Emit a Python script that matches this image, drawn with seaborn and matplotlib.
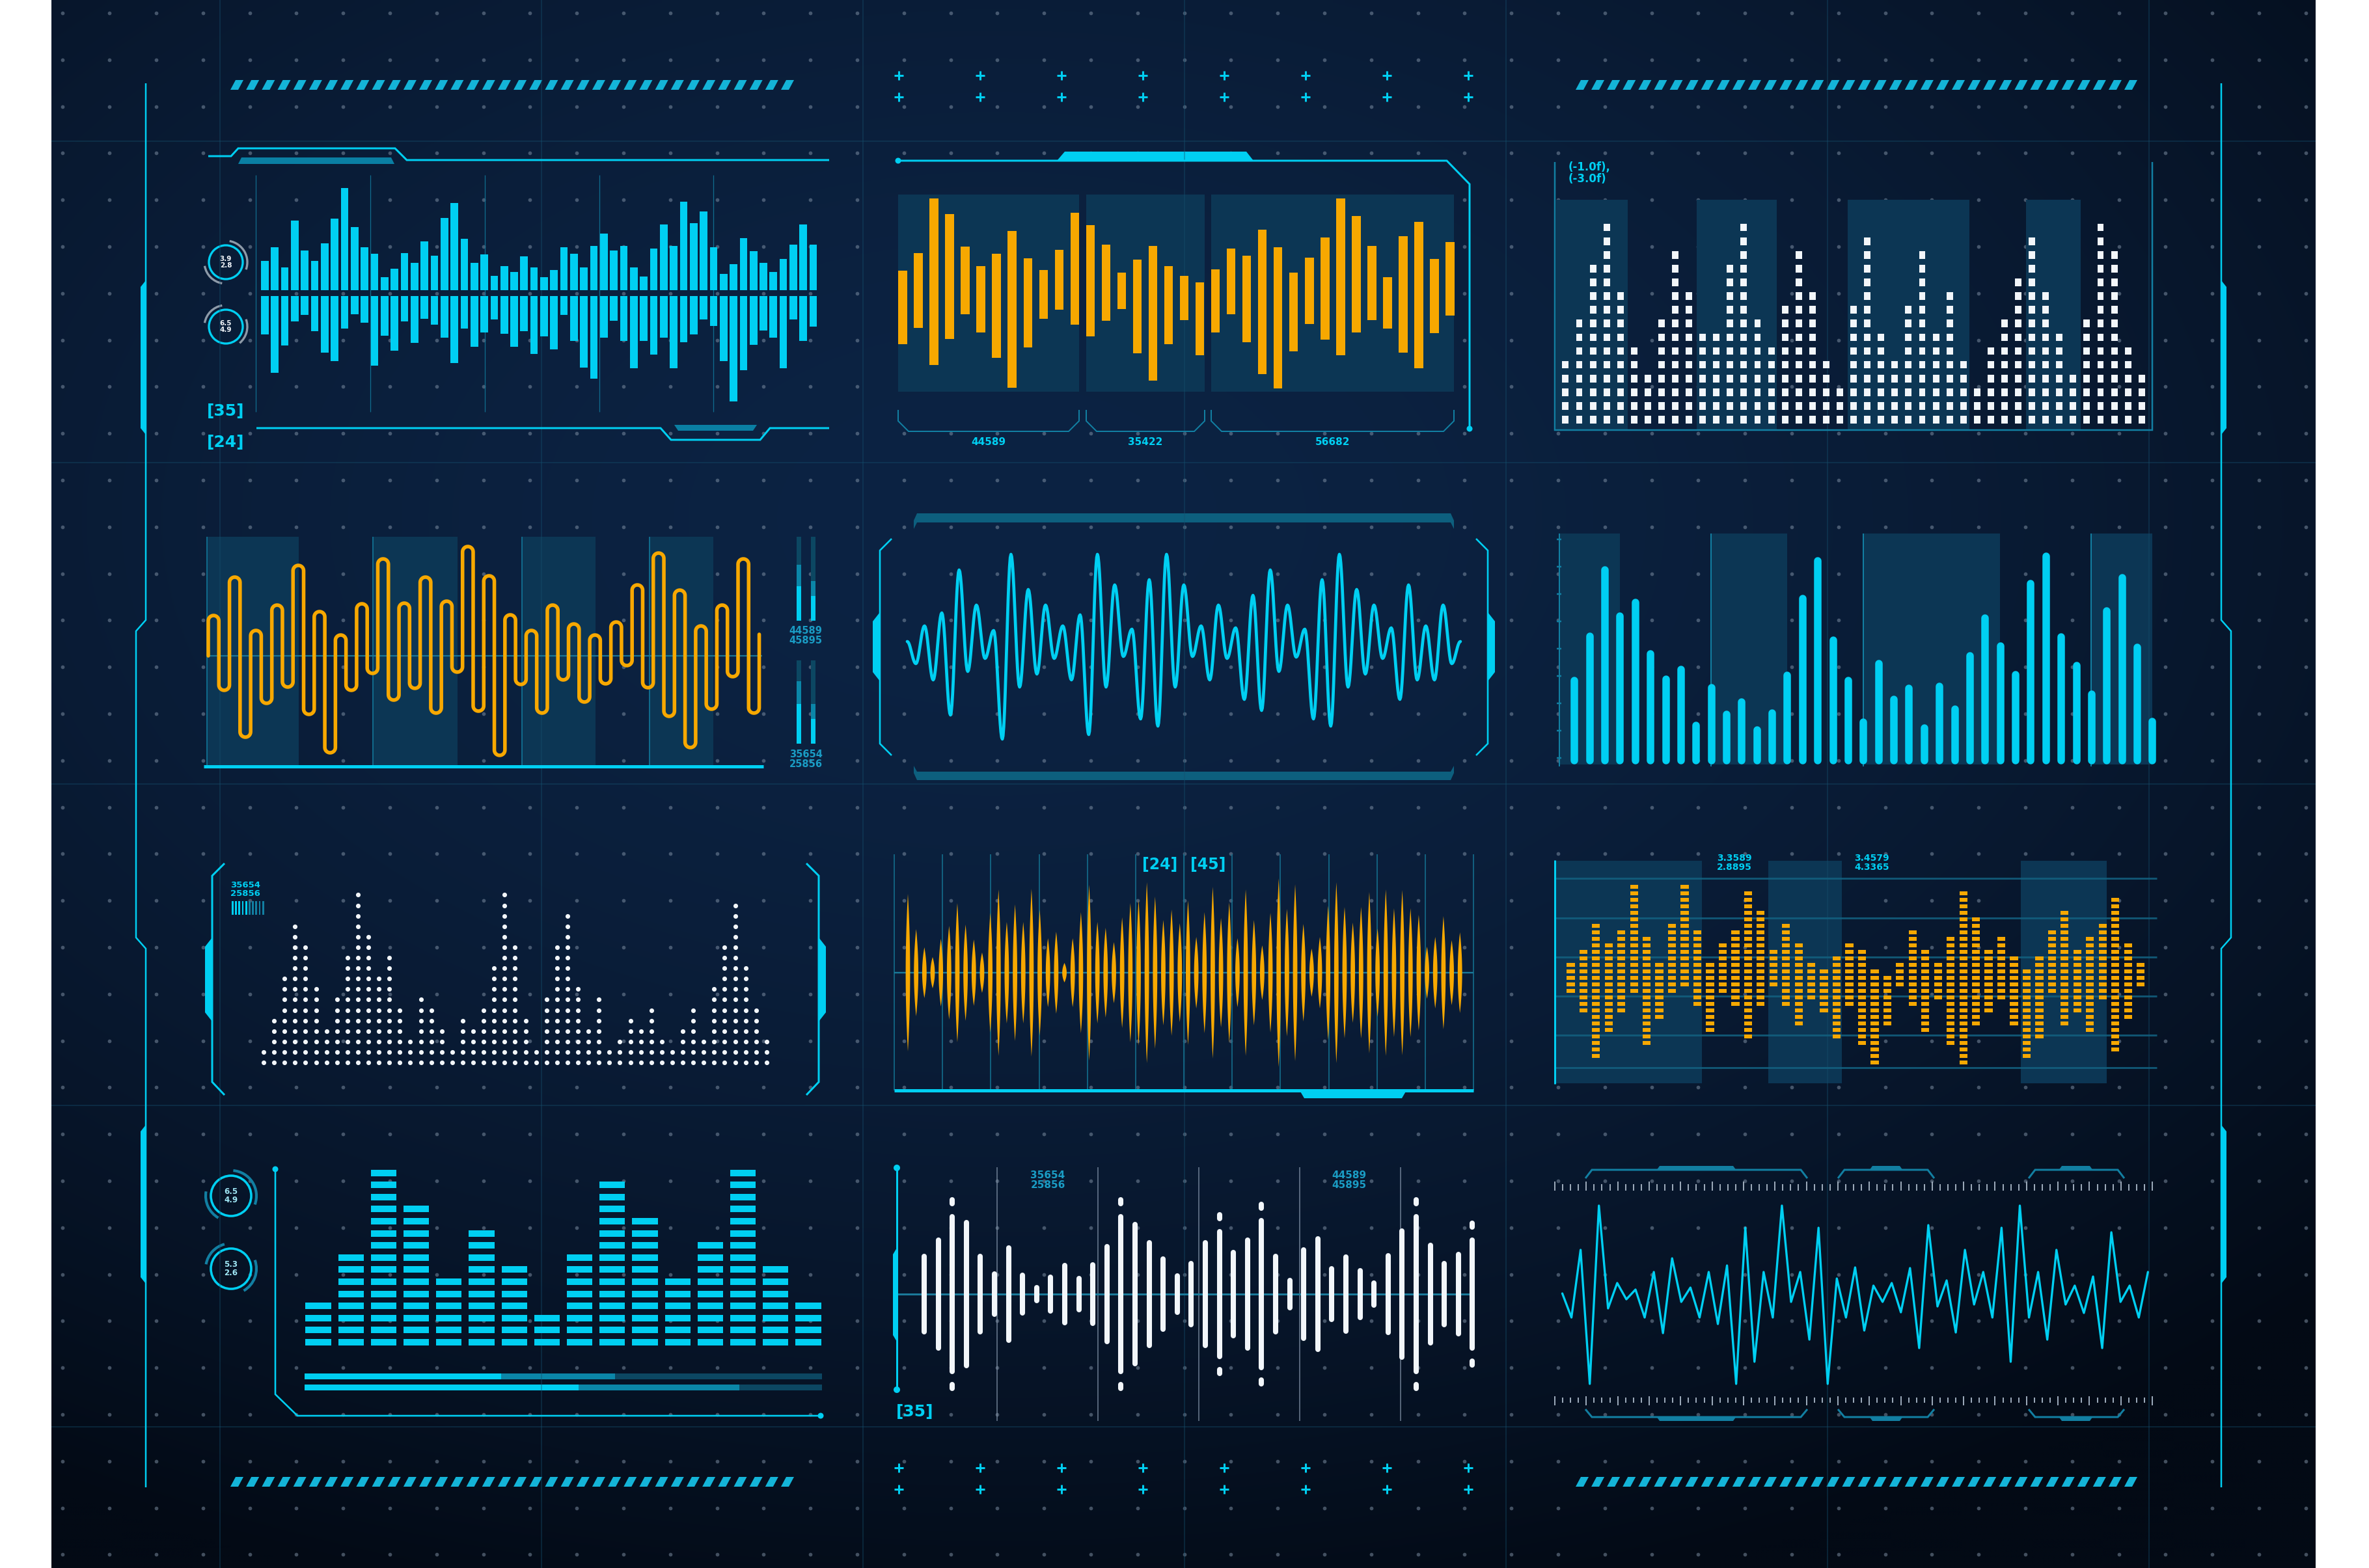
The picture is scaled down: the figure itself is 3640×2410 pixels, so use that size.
import numpy as np
import pandas as pd
import matplotlib.pyplot as plt
import seaborn as sns
from matplotlib.patches import Arc, Circle, Polygon, Rectangle

# ---------------------------------------------------------------- data
# panel 1: mirrored cyan bars (upper / lower lengths)
UP1 = [88, 130, 68, 211, 120, 88, 142, 216, 309, 190, 130, 111, 40, 65, 113, 82, 148, 105, 218, 263,
       155, 82, 109, 44, 73, 55, 102, 68, 40, 61, 130, 111, 68, 134, 171, 119, 134, 68, 42, 126,
       198, 134, 267, 203, 237, 130, 50, 78, 157, 117, 83, 55, 94, 138, 198, 137]
DN1 = [116, 231, 150, 76, 58, 106, 171, 197, 99, 56, 80, 210, 120, 165, 76, 141, 68, 87, 125, 203,
       99, 154, 110, 70, 114, 154, 107, 174, 121, 161, 58, 135, 216, 250, 125, 74, 136, 218, 135, 177,
       125, 218, 140, 115, 71, 91, 197, 318, 224, 148, 104, 125, 218, 71, 135, 92]
P1_CIRCLES = ["3.9\n2.8", "6.5\n4.9"]
P1_TAGS = ["[35]", "[24]"]

# panel 2: orange floating bars (high / low ends)
HI2 = [89, 159, 380, 316, 186, 107, 157, 248, 139, 92, 173, 322, 273, 194, 82, 133, 189, 107, 69, 44,
       94, 179, 149, 255, 184, 82, 142, 222, 380, 310, 189, 64, 228, 286, 137, 204]
LO2 = [-206, -139, -288, -184, -84, -158, -259, -381, -219, -104, -68, -127, -175, -111, -64, -242,
       -351, -206, -109, -250, -159, -84, -197, -324, -382, -233, -124, -187, -250, -159, -109, -143,
       -240, -303, -161, -91]
P2_LABELS = ["44589", "35422", "56682"]

# panel 3: white cell columns (cells per column)
H3 = [5, 8, 12, 15, 10, 6, 4, 8, 13, 10, 7, 7, 12, 15, 8, 6, 9, 13, 10, 5, 3, 9, 14, 7, 5, 9, 13, 7,
      10, 5, 3, 6, 8, 11, 14, 10, 7, 4, 8, 15, 13, 6, 4]
P3_LABEL = "(-1.0f),\n(-3.0f)"

# panel 4: orange hairpin wave (peak heights / trough depths)
PEAK4 = [62, 121, 39, 78, 139, 68, 32, 80, 149, 81, 121, 84, 168, 123, 63, 39, 78, 49, 32, 52, 109,
         158, 101, 46, 78, 149]
TROUGH4 = [-53, -125, -73, -48, -90, -149, -53, -27, -68, -50, -88, -25, -85, -153, -44, -88, -37,
           -71, -43, -15, -49, -93, -141, -82, -32, -88]
START4, END4 = 0, 33
P4_LABELS = ["44589\n45895", "35654\n25856"]

# panel 5: cyan smooth wave (successive extrema)
EXT5 = [12, -22, 36, -47, 56, -101, 122, -34, 68, -14, 29, -138, 146, -58, 92, -38, 68, -14, 36, -47,
        53, -131, 146, -58, 99, -11, 31, -107, 107, -118, 146, -58, 99, -11, 36, -47, 68, -14, 33, -77,
        83, -94, 122, -34, 68, -12, 31, -107, 107, -118, 146, -58, 92, -38, 68, -14, 33, -77, 99, -47,
        36, -47, 68, -22, 12]

# panel 6: cyan rounded bars
H6 = [135, 203, 305, 234, 255, 176, 137, 152, 66, 124, 83, 102, 59, 85, 143, 261, 319, 197, 135, 71,
      161, 106, 123, 62, 126, 91, 173, 231, 188, 144, 284, 326, 202, 158, 114, 242, 293, 186, 72]

# panel 7: white dot columns (dots per column)
H7 = [2, 5, 9, 14, 12, 8, 4, 7, 11, 17, 13, 9, 11, 6, 3, 7, 6, 4, 2, 5, 4, 6, 10, 17, 12, 5, 2, 7, 12,
      15, 8, 4, 7, 2, 3, 5, 4, 6, 3, 2, 4, 6, 3, 8, 12, 16, 10, 6, 3]
P7_LABEL = "35654\n25856"

# panel 8: orange spindles (half amplitude)
A8 = [121, 67, 39, 24, 52, 72, 107, 74, 51, 31, 92, 128, 78, 105, 78, 129, 97, 53, 63, 15, 53, 93, 135,
      78, 69, 47, 85, 107, 112, 139, 117, 81, 97, 76, 111, 55, 93, 132, 84, 108, 53, 128, 81, 42, 92,
      145, 98, 136, 75, 37, 55, 103, 139, 101, 77, 101, 124, 68, 128, 99, 127, 99, 89, 40, 55, 87, 50, 62]
P8_TAGS = ["[24]", "[45]"]

# panel 9: orange mirrored cells (cells above / below centre)
UP9 = [2, 4, 8, 5, 7, 14, 6, 2, 8, 14, 7, 2, 5, 7, 13, 10, 4, 8, 5, 2, 1, 3, 5, 4, 1, 0, 2, 7, 4, 2, 6,
       13, 9, 4, 6, 3, 1, 3, 7, 10, 4, 6, 8, 12, 5, 2]
DN9 = [3, 6, 13, 9, 6, 3, 11, 7, 3, 2, 5, 9, 3, 5, 10, 5, 2, 5, 8, 4, 6, 10, 5, 11, 14, 8, 2, 5, 9, 4,
       11, 14, 8, 6, 4, 8, 13, 10, 3, 8, 6, 9, 4, 12, 7, 2]
P9_LABELS = ["3.3589\n2.8895", "3.4579\n4.3365"]

# panel 10: cyan block columns + progress bars
H10 = [4, 8, 15, 12, 6, 10, 7, 3, 8, 14, 11, 6, 9, 15, 7, 4]
P10_CIRCLES = ["6.5\n4.9", "5.3\n2.6"]
PROGRESS10 = [[0.38, 0.60], [0.53, 0.84]]   # bright / medium fraction

# panel 11: white rounded bars (half length) + detached pills
A11 = [62, 87, 123, 114, 62, 35, 75, 33, 14, 30, 48, 28, 49, 77, 123, 111, 83, 58, 32, 51, 83, 100, 68,
       87, 117, 62, 25, 72, 89, 43, 61, 40, 21, 63, 101, 123, 79, 51, 65, 87]
PILL_IDX11 = [2, 14, 21, 24, 35, 39]
PILL_AMP11 = [142, 142, 119, 135, 142, 106]
P11_LABELS = ["35654\n25856", "44589\n45895"]

# panel 12: cyan zigzag
Z12 = [2, -35, 69, -137, 137, -21, 18, -7, 8, -35, 35, -59, 56, -11, 11, -35, 35, -45, 45, -137, 103,
       -103, 35, -35, 137, -11, 35, -69, 103, -137, 25, -35, 42, -55, 14, -11, 18, -27, 41, -82, 107,
       -18, 22, -58, 69, -15, 35, -35, 103, -103, 137, -35, 35, -69, 69, -15, 14, -28, 28, -82, 96, -11,
       14, -35, 35]

# ---------------------------------------------------------------- style
W, H = 3640, 2410
CYAN = "#00cff2"
ORANGE = "#f7a800"
WHITE = "#f2f6fa"
TEAL = "#127fa2"
TEAL_MID = "#0b86a8"
TEAL_DARK = "#0c4762"
BAND = "#0c3654"
LINE_FAINT = "#16516f"
TEXT_TEAL = "#1a9cc4"

sns.set_style("dark")
plt.rcParams["font.family"] = ["DejaVu Sans"]

fig = plt.figure(figsize=(W / 100, H / 100), dpi=100, facecolor="white")
bg = fig.add_axes([0, 0, 1, 1])
bg.set_xlim(0, W)
bg.set_ylim(H, 0)
bg.axis("off")


def panel(box, x0, sx, y0, sy):
    """Axes over an image-pixel box; data x = (px - x0) / sx, data y = (y0 - py) / sy."""
    l, t, r, b = box
    ax = fig.add_axes([l / W, 1 - b / H, (r - l) / W, (b - t) / H])
    ax.set_xlim((l - x0) / sx, (r - x0) / sx)
    ax.set_ylim((y0 - b) / sy, (y0 - t) / sy)
    ax.axis("off")
    return ax


def line(pts, color=CYAN, lw=3, **kw):
    xs, ys = zip(*pts)
    bg.plot(xs, ys, color=color, lw=lw * 0.72, solid_capstyle="butt", solid_joinstyle="miter", **kw)


def poly(pts, color=CYAN, **kw):
    bg.add_patch(Polygon(pts, closed=True, fc=color, ec="none", **kw))


def rect(x0, x1, y0, y1, color, **kw):
    bg.add_patch(Rectangle((x0, y0), x1 - x0, y1 - y0, fc=color, ec="none", **kw))


def txt(x, y, s, size, color=CYAN, ha="center", va="center", **kw):
    bg.text(x, y, s, fontsize=size, color=color, ha=ha, va=va, fontweight="bold", **kw)


def dot(x, y, r=4.5, color=CYAN):
    bg.add_patch(Circle((x, y), r, fc=color, ec="none"))


def cells(counts):
    cols = np.repeat(np.arange(len(counts)), counts)
    rows = np.concatenate([np.arange(c) for c in counts])
    return cols, rows


# ---------------------------------------------------------------- background
X_END = 3558
yy, xx = np.mgrid[0:H:8, 79:X_END:8]
rr = np.sqrt(((xx - 0.42 * W) / (0.78 * W)) ** 2 + ((yy - 0.33 * H) / (0.72 * H)) ** 2)
mix = np.clip(rr, 0, 1)[..., None] ** 1.8
c_in = np.array([0x0c, 0x23, 0x43]) / 255
c_out = np.array([0x03, 0x0a, 0x15]) / 255
bg.imshow(c_in * (1 - mix) + c_out * mix, extent=(79, X_END, H, 0), aspect="auto",
          interpolation="bilinear", zorder=0)

for gx in np.arange(338, 3400, 494):
    line([(gx, 0), (gx, H)], color=LINE_FAINT, lw=1.6, alpha=0.45)
for gy in np.arange(217, 2300, 494):
    line([(79, gy), (X_END, gy)], color=LINE_FAINT, lw=1.6, alpha=0.45)

gx, gy = np.meshgrid(np.arange(96.4, X_END, 71.8), np.arange(20, 2400, 71.8))
bg.scatter(gx.ravel(), gy.ravel(), s=17, color="#8394a8", alpha=0.5, linewidths=0, zorder=1)


# hatched strips and plus marks
def hatch(x0, x1, y0, y1):
    n = int(round((x1 - x0) / 24))
    step = (x1 - x0 - 20) / (n - 1)
    for i in range(n):
        xs = x0 + i * step
        poly([(xs + 8, y0), (xs + 20, y0), (xs + 12, y1), (xs, y1)], color="#14b4d8")


for (hx0, hx1) in [(354, 1220), (2421, 3284)]:
    hatch(hx0, hx1, 123, 138)
    hatch(hx0, hx1, 2270, 2285)
plus_x = np.linspace(1381, 2256, 8)
for py in [116, 149, 2256, 2289]:
    bg.plot(plus_x, [py] * 8, ls="none", marker="+", ms=10, mew=2.2, color=CYAN)

# outer borders
line([(224, 128), (224, 953), (209, 970), (209, 1441), (224, 1458), (224, 2286)], lw=2.5)
line([(3413, 128), (3413, 953), (3428, 970), (3428, 1441), (3413, 1458), (3413, 2286)], lw=2.5)
for (a, b) in [(431, 668), (1729, 1973)]:
    poly([(224, a), (216, a + 10), (216, b - 10), (224, b)])
    poly([(3413, a), (3421, a + 10), (3421, b - 10), (3413, b)])

# ---------------------------------------------------------------- panel 1
line([(320, 240), (355, 240), (366, 228), (607, 228), (625, 246), (1274, 246)], lw=3)
poly([(371, 242), (601, 242), (606, 252), (366, 252)], color="#0a7fa3")
line([(394, 658), (1015, 658), (1031, 676), (1168, 676), (1183, 658), (1274, 658)], lw=3)
poly([(1036, 653), (1163, 653), (1157, 662), (1042, 662)], color="#0a7fa3")
for vx in [393, 569, 745, 921, 1096]:
    line([(vx, 269), (vx, 633)], color=TEAL, lw=1.3, alpha=0.8)
for (cy, label, arcs) in [(403, P1_CIRCLES[0], [(280, 20), (100, 170)]),
                          (502, P1_CIRCLES[1], [(190, 260), (340, 50)])]:
    bg.add_patch(Circle((347, cy), 26, fill=False, ec=CYAN, lw=2.4))
    for (t1, t2) in arcs:
        bg.add_patch(Arc((347, cy), 66, 66, theta1=t1, theta2=t2, ec="#8d9aa8", lw=2.4))
    txt(347, cy, label, 7.5, color=WHITE, linespacing=1.0)
txt(347, 632, P1_TAGS[0], 18)
txt(347, 680, P1_TAGS[1], 18)

ax1 = panel((399.5, 269, 1257, 633), 407, 15.32, 450.5, 1 / 1.96)
idx1 = np.arange(len(UP1))
ax1.bar(idx1, UP1, bottom=8.5, width=0.76, color=CYAN, linewidth=0)
ax1.bar(idx1, -np.array(DN1), bottom=-8.5, width=0.76, color=CYAN, linewidth=0)

# ---------------------------------------------------------------- panel 2
bands2 = [(1380, 1658), (1669, 1851), (1861, 2234)]
for (a, b), lab in zip(bands2, P2_LABELS):
    rect(a, b, 299, 602, BAND)
    line([(a, 630), (a, 647), (a + 16, 663), (b - 16, 663), (b, 647), (b, 630)], color=TEAL, lw=2)
    txt((a + b) / 2, 679, lab, 11)
line([(1380, 247), (2223, 247), (2258, 283), (2258, 659)], lw=3)
poly([(1624, 247), (1636, 233), (1915, 233), (1926, 247)])
dot(1380, 247)
dot(2258, 659)

ax2 = panel((1375, 299, 2240, 602), 1387, 24.03, 450.4, 1 / 2.61)
hi2, lo2 = np.array(HI2), np.array(LO2)
ax2.bar(np.arange(len(HI2)), hi2 - lo2, bottom=lo2, width=0.56, color=ORANGE, linewidth=0)

# ---------------------------------------------------------------- panel 3
for (a, b) in [(2391, 2501), (2607, 2730), (2839, 3026), (3113, 3197)]:
    rect(a, b, 307, 660, BAND)
line([(2389, 249), (2389, 661), (3307, 661), (3307, 249)], color=TEAL, lw=2.5)
txt(2410, 248, P3_LABEL, 12, ha="left", va="top", linespacing=1.0)

ax3 = panel((2389, 300, 3307, 661), 2405.4, 21.08, 645, 21.1)
c3, r3 = cells(H3)
ax3.bar(c3, 0.55, bottom=r3 - 0.275, width=0.47, color=WHITE, linewidth=0)

# ---------------------------------------------------------------- panel 4
for (a, b) in [(318, 459), (573, 703), (802, 915), (998, 1096)]:
    rect(a, b, 825, 1177, BAND)
    line([(a, 825), (a, 1177)], color=TEAL, lw=1.5)
line([(318, 1008), (1171, 1008)], color="#1a7596", lw=2.2)
line([(313, 1178), (1173, 1178)], lw=5)
meters = [(1227, [(825, 868, TEAL_DARK), (868, 901, TEAL_MID), (901, 954, CYAN)]),
          (1249, [(825, 893, TEAL_DARK), (893, 916, TEAL_MID), (916, 954, CYAN)]),
          (1227, [(1015, 1047, TEAL_DARK), (1047, 1082, TEAL_MID), (1082, 1143, CYAN)]),
          (1249, [(1015, 1082, TEAL_DARK), (1082, 1105, TEAL_MID), (1105, 1143, CYAN)])]
for mx, segs in meters:
    for (a, b, c) in segs:
        rect(mx - 3.5, mx + 3.5, a, b, c)
txt(1238, 977, P4_LABELS[0], 10.5, color=TEXT_TEAL, linespacing=1.0)
txt(1238, 1167, P4_LABELS[1], 10.5, color=TEXT_TEAL, linespacing=1.0)


def hairpin(peaks, troughs, start, end, r):
    xs, ys = [0.0], [float(start)]
    turns = [v for pair in zip(peaks, troughs) for v in pair]
    for i, v in enumerate(turns):
        t = np.linspace(np.pi, 0, 14) if v > 0 else np.linspace(np.pi, 2 * np.pi, 14)
        c = v - r if v > 0 else v + r
        xs.extend(i + 0.5 + 0.5 * np.cos(t))
        ys.extend(c + r * np.sin(t))
    xs.append(float(len(turns)))
    ys.append(float(end))
    return np.array(xs), np.array(ys)


ax4 = panel((313, 825, 1180, 1182), 320, 16.28, 1008, 1)
hx, hy = hairpin(PEAK4, TROUGH4, START4, END4, 8.1)
sns.lineplot(x=hx, y=hy, sort=False, estimator=None, color=ORANGE, linewidth=4.0,
             solid_joinstyle="round", ax=ax4)

# ---------------------------------------------------------------- panel 5
poly([(1409, 789), (2229, 789), (2234, 800), (2234, 813), (2229, 803), (1409, 803), (1404, 813),
      (1404, 800)], color="#0d5f7e")
poly([(1409, 1199), (2229, 1199), (2234, 1188), (2234, 1177), (2229, 1186), (1409, 1186),
      (1404, 1177), (1404, 1188)], color="#0d5f7e")
line([(1370, 828), (1352, 846), (1352, 1143), (1370, 1161)], lw=2.6)
line([(2268, 828), (2286, 846), (2286, 1143), (2268, 1161)], lw=2.6)
poly([(1352, 941), (1341, 955), (1341, 1033), (1352, 1047)])
poly([(2286, 941), (2297, 955), (2297, 1033), (2286, 1047)])


def smooth(vals, k=12):
    xs, ys = [], []
    for i in range(len(vals) - 1):
        t = np.linspace(0, 1, k, endpoint=False)
        xs.extend(i + t)
        ys.extend(vals[i] + (vals[i + 1] - vals[i]) * (1 - np.cos(np.pi * t)) / 2)
    xs.append(len(vals) - 1)
    ys.append(vals[-1])
    return np.array(xs), np.array(ys)


ax5 = panel((1345, 800, 2295, 1190), 1394, 13.28, 998, 1)
sx5, sy5 = smooth(EXT5)
sns.lineplot(x=sx5, y=sy5, sort=False, estimator=None, color=CYAN, linewidth=3.4, ax=ax5)

# ---------------------------------------------------------------- panel 6
for (a, b) in [(2395.5, 2488.6), (2629, 2746), (2863, 3073), (3213, 3307)]:
    rect(a, b, 820, 1175, BAND)
    line([(a, 820), (a, 1178)], color=TEAL, lw=2)
for ty in np.arange(829, 1180, 42):
    line([(2391.5, ty), (2398.5, ty)], color=TEAL, lw=2.5)

ax6 = panel((2390, 800, 3330, 1185), 2419.3, 23.37, 1175, 1)
h6 = np.array(H6)
ax6.vlines(np.arange(len(H6)), 5.8, h6 - 5.8, colors=CYAN, linewidth=8.3, capstyle="round")

# ---------------------------------------------------------------- panel 7
line([(345, 1327), (326, 1346), (326, 1663), (345, 1683)], lw=3)
line([(1239, 1327), (1258, 1346), (1258, 1663), (1239, 1683)], lw=3)
poly([(326, 1441), (315, 1455), (315, 1556), (326, 1570)])
poly([(1258, 1441), (1269, 1455), (1269, 1556), (1258, 1570)])
txt(354, 1367, P7_LABEL, 9.5, ha="left", linespacing=1.0)
for k in range(10):
    rect(356 + k * 5.2, 358.8 + k * 5.2, 1385, 1406, CYAN if k < 5 else TEAL)

ax7 = panel((330, 1330, 1255, 1680), 405, 16.1, 1633, 16.1)
c7, r7 = cells(H7)
sns.scatterplot(x=c7, y=r7, ax=ax7, color=WHITE, s=26, linewidth=0, legend=False)

# ---------------------------------------------------------------- panel 8
for vx in np.linspace(1374, 2264, 13):
    line([(vx, 1313), (vx, 1676)], color="#14708f", lw=1.6)
line([(1374, 1495), (2264, 1495)], color="#1a7a9a", lw=2.4)
line([(1374, 1676), (2264, 1676)], lw=5)
poly([(1997, 1676), (2161, 1676), (2154, 1688), (2004, 1688)])
txt(1782, 1329, P8_TAGS[0], 17)
txt(1856, 1329, P8_TAGS[1], 17)

ax8 = panel((1370, 1300, 2270, 1690), 1395, 12.66, 1495, 1)
tt = np.linspace(-1, 1, 31)
for i, a in enumerate(A8):
    w = 0.27 * (1 - tt ** 2)
    ax8.fill(np.r_[i + w, i - w[::-1]], np.r_[a * tt, a * tt[::-1]], color=ORANGE, lw=0)

# ---------------------------------------------------------------- panel 9
for (a, b) in [(2391, 2615), (2717, 2830), (3105, 3237)]:
    rect(a, b, 1323, 1665, BAND)
for hy_ in [1350, 1411, 1471, 1531, 1591, 1641]:
    line([(2389, hy_), (3314, hy_)], color="#12607f", lw=3, alpha=0.85)
line([(2389, 1322), (2389, 1666)], lw=3)
txt(2665, 1326, P9_LABELS[0], 10, linespacing=1.0)
txt(2876, 1326, P9_LABELS[1], 10, linespacing=1.0)

ax9 = panel((2390, 1320, 3330, 1670), 2413.4, 19.46, 1498, 10)
for side, counts in ((1, UP9), (-1, DN9)):
    c9, r9 = cells(counts)
    ax9.bar(c9, 0.58, bottom=side * (r9 + 0.5) - 0.29, width=0.63, color=ORANGE, linewidth=0)

# ---------------------------------------------------------------- panel 10
for (cy, label, arcs) in [(1838, P10_CIRCLES[0], [(275, 20), (120, 190)]),
                          (1950, P10_CIRCLES[1], [(190, 255), (340, 60)])]:
    bg.add_patch(Circle((355, cy), 31, fill=False, ec=CYAN, lw=2.6))
    for (t1, t2) in arcs:
        bg.add_patch(Arc((355, cy), 78, 78, theta1=t1, theta2=t2, ec=TEAL, lw=3))
    txt(355, cy, label, 8.5, color="#9fe6f5", linespacing=1.0)
line([(423, 1797), (423, 2143), (457, 2176), (1261, 2176)], lw=2.6)
dot(423, 1797)
dot(1261, 2176)
for (y0, y1), (f1, f2) in zip([(2111, 2120), (2128, 2137)], PROGRESS10):
    span = 1263 - 468
    rect(468, 468 + f1 * span, y0, y1, CYAN)
    rect(468 + f1 * span, 468 + f2 * span, y0, y1, TEAL_MID)
    rect(468 + f2 * span, 1263, y0, y1, TEAL_DARK)

ax10 = panel((460, 1790, 1270, 2080), 489, 50.2, 2063, 18.6)
c10, r10 = cells(H10)
ax10.bar(c10, 0.54, bottom=r10 - 0.27, width=0.78, color=CYAN, linewidth=0)

# ---------------------------------------------------------------- panel 11
for vx in [1532, 1687, 1842, 1997, 2152]:
    line([(vx, 1794), (vx, 2184)], color="#8a9bb0", lw=1.6, alpha=0.75)
line([(1378, 1989), (2261, 1989)], color="#1a7a9a", lw=3)
line([(1378, 1795), (1378, 2136)], lw=3)
poly([(1378, 1918), (1372, 1928), (1372, 2052), (1378, 2062)])
dot(1378, 1795, 5)
dot(1378, 2136, 5)
txt(1610, 1814, P11_LABELS[0], 11, color=TEXT_TEAL, linespacing=1.0)
txt(2073, 1814, P11_LABELS[1], 11, color=TEXT_TEAL, linespacing=1.0)
txt(1406, 2170, "[35]", 18)

ax11 = panel((1380, 1780, 2275, 2190), 1420, 21.6, 1989, 1)
a11 = np.array(A11)
ax11.vlines(np.arange(len(A11)), -a11 + 4, a11 - 4, colors=WHITE, linewidth=5.8, capstyle="round")
pa = np.array(PILL_AMP11)
ax11.vlines(PILL_IDX11, pa - 3, pa + 3, colors=WHITE, linewidth=5.8, capstyle="round")
ax11.vlines(PILL_IDX11, -pa - 3, -pa + 3, colors=WHITE, linewidth=5.8, capstyle="round")

# ---------------------------------------------------------------- panel 12
for k, tx in enumerate(np.arange(2389, 3314, 12.08)):
    major = k % 4 == 0
    line([(tx, 1816 if major else 1820), (tx, 1830)], color="#9aa8b8", lw=2)
    line([(tx, 2146 if major else 2148), (tx, 2160 if major else 2156)], color="#9aa8b8", lw=2)
for (a, b, ba, bb) in [(2436, 2777, 2545, 2668), (2824, 2972, 2872, 2924), (3117, 3264, 3163, 3216)]:
    line([(a, 1811), (a + 10, 1798), (b - 10, 1798), (b, 1811)], color=TEAL, lw=3)
    poly([(ba, 1799), (ba + 5, 1792), (bb - 5, 1792), (bb, 1799)], color=TEAL)
    line([(a, 2166), (a + 10, 2178), (b - 10, 2178), (b, 2166)], color=TEAL, lw=3)
    poly([(ba, 2177), (ba + 5, 2184), (bb - 5, 2184), (bb, 2177)], color=TEAL)

ax12 = panel((2385, 1840, 3330, 2145), 2400.5, 14.06, 1990, 1)
sns.lineplot(x=np.arange(len(Z12)), y=Z12, sort=False, estimator=None, color=CYAN, linewidth=2.4,
             ax=ax12)

fig.savefig("out.png", dpi=100, facecolor="white")
